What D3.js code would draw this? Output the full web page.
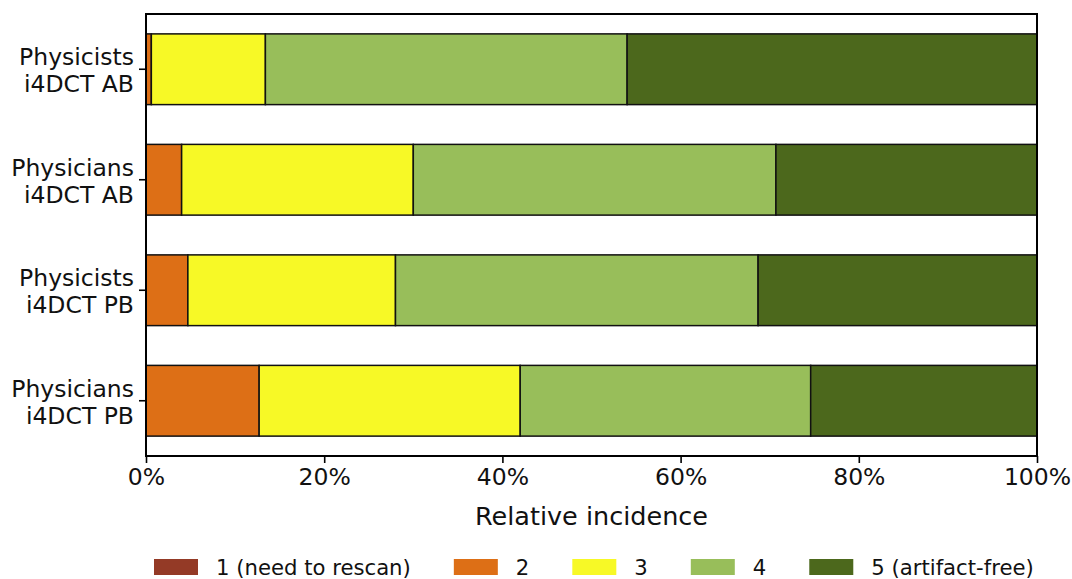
<!DOCTYPE html>
<html><head><meta charset="utf-8">
<script src="https://cdn.jsdelivr.net/npm/d3@7"></script>
<style>html,body{margin:0;padding:0;background:#fff;}svg{display:block;font-family:"DejaVu Sans",sans-serif;}</style>
</head><body>
<script>
const groups = [["Physicists","i4DCT AB"],["Physicians","i4DCT AB"],["Physicists","i4DCT PB"],["Physicians","i4DCT PB"]];
const seriesNames = ["1 (need to rescan)","2","3","4","5 (artifact-free)"];
const colors = ["#943a26","#dd6f16","#f7f926","#98be5a","#4c681c"];
// percentages per group for scores 1..5
const score1 = [0.0, 0.0, 0.0, 0.0];
const score2 = [0.6, 4.0, 4.7, 12.7];
const score3 = [12.8, 26.0, 23.3, 29.3];
const score4 = [40.6, 40.7, 40.7, 32.6];
const score5 = [46.0, 29.3, 31.3, 25.4];
const xTicks = [0,20,40,60,80,100];
const xLabel = "Relative incidence";

const W=1072,H=579;
const m={l:146,r:1037,t:14,b:456};
const svg=d3.select("body").append("svg").attr("width",W).attr("height",H);
const x=d3.scaleLinear().domain([0,100]).range([m.l,m.r]);
const y=d3.scaleBand().domain(d3.range(groups.length)).range([m.t,m.b]).paddingInner(0.36).paddingOuter(0.18);

const all=[score1,score2,score3,score4,score5];
groups.forEach((g,i)=>{
  let cum=0;
  all.forEach((s,k)=>{
    const v=s[i];
    if(v>0){
      svg.append("rect").attr("x",x(cum)).attr("width",x(cum+v)-x(cum))
        .attr("y",y(i)).attr("height",y.bandwidth())
        .attr("fill",colors[k]).attr("stroke","#111").attr("stroke-width",1.5);
    }
    cum+=v;
  });
});

// frame
svg.append("rect").attr("x",m.l).attr("y",m.t).attr("width",m.r-m.l).attr("height",m.b-m.t)
  .attr("fill","none").attr("stroke","#000").attr("stroke-width",2);

// x axis
const xa=svg.append("g").attr("transform",`translate(0,${m.b})`)
  .call(d3.axisBottom(x).tickValues(xTicks).tickFormat(d=>d+"%").tickSize(7).tickPadding(5));
xa.select(".domain").remove();
xa.selectAll("line").attr("stroke","#000").attr("stroke-width",1.6);
xa.selectAll("text").attr("font-size",23.5).attr("font-family","DejaVu Sans").attr("fill","#111");

// y ticks and labels
groups.forEach((g,i)=>{
  const cy=y(i)+y.bandwidth()/2;
  svg.append("line").attr("x1",m.l-7).attr("x2",m.l).attr("y1",cy).attr("y2",cy).attr("stroke","#000").attr("stroke-width",1.6);
  const t=svg.append("text").attr("text-anchor","end").attr("font-size",23.5).attr("fill","#111");
  t.append("tspan").attr("x",m.l-12).attr("y",cy-4).text(g[0]);
  t.append("tspan").attr("x",m.l-12).attr("y",cy+23).text(g[1]);
});

svg.append("text").attr("x",(m.l+m.r)/2).attr("y",525).attr("text-anchor","middle")
  .attr("font-size",25.5).attr("fill","#111").text(xLabel);

// legend
let lx=154;
seriesNames.forEach((n,k)=>{
  svg.append("rect").attr("x",lx).attr("y",559).attr("width",44).attr("height",16).attr("fill",colors[k]);
  const t=svg.append("text").attr("x",lx+62).attr("y",574.5).attr("font-size",21.2).attr("fill","#111").text(n);
  lx=lx+62+t.node().getComputedTextLength()+43;
});
</script>
</body></html>
